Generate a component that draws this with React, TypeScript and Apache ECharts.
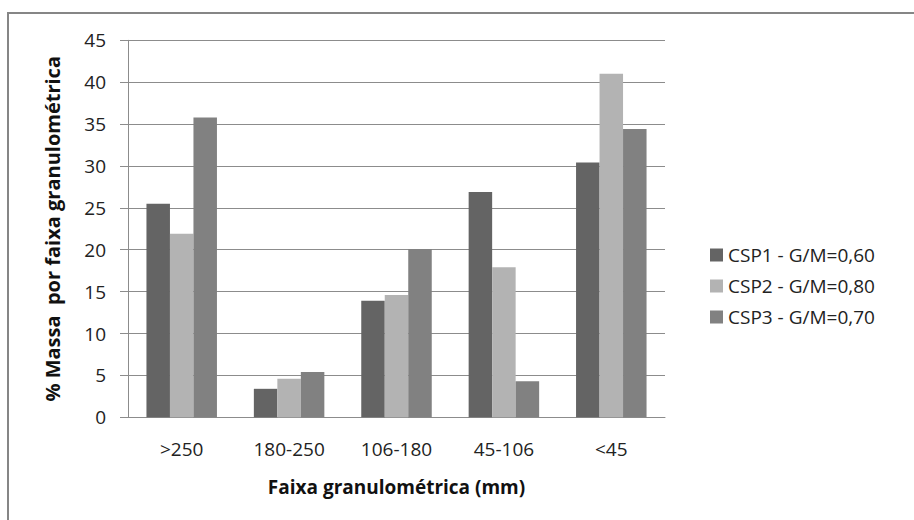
import React, { useEffect, useRef } from "react";
import * as echarts from "echarts";

const categories = [">250", "180-250", "106-180", "45-106", "<45"];
const csp1 = [25.5, 3.4, 13.9, 26.9, 30.4];
const csp2 = [21.9, 4.6, 14.6, 17.9, 41.0];
const csp3 = [35.8, 5.4, 20.1, 4.3, 34.4];
const seriesNames = ["CSP1 - G/M=0,60", "CSP2 - G/M=0,80", "CSP3 - G/M=0,70"];
const seriesColors = ["#646464", "#b3b3b3", "#818181"];

const FONT = "'Open Sans', 'Noto Sans', sans-serif";

export default function App() {
  const ref = useRef<HTMLDivElement>(null);

  useEffect(() => {
    if (!ref.current) return;
    const chart = echarts.init(ref.current, null, { renderer: "svg" });
    const values = [csp1, csp2, csp3];
    chart.setOption({
      animation: false,
      backgroundColor: "#ffffff",
      textStyle: { fontFamily: FONT },
      graphic: [
        {
          type: "rect",
          shape: { x: 8, y: 13, width: 920, height: 520 },
          style: { fill: "none", stroke: "#868686", lineWidth: 2 },
          silent: true,
        },
      ],
      grid: { left: 128, right: 249, top: 40.3, bottom: 102.7 },
      legend: {
        orient: "vertical",
        left: 705,
        top: 240,
        itemWidth: 13,
        itemHeight: 13,
        itemGap: 11,
        icon: "rect",
        data: seriesNames,
        textStyle: { fontFamily: FONT, fontSize: 19, color: "#222", lineHeight: 20 },
      },
      xAxis: {
        type: "category",
        data: categories,
        name: "Faixa granulométrica (mm)",
        nameLocation: "middle",
        nameGap: 60,
        nameTextStyle: { fontFamily: FONT, fontSize: 19, fontWeight: "bold", color: "#111" },
        axisLine: { show: true, lineStyle: { color: "#8c8c8c", width: 1 } },
        axisTick: { show: false },
        axisLabel: { fontFamily: FONT, fontSize: 19, color: "#222", margin: 22 },
      },
      yAxis: {
        type: "value",
        min: 0,
        max: 45,
        interval: 5,
        name: "% Massa  por faixa granulométrica",
        nameLocation: "middle",
        nameGap: 66,
        nameTextStyle: { fontFamily: FONT, fontSize: 20, fontWeight: "bold", color: "#111" },
        axisLine: { show: true, lineStyle: { color: "#8c8c8c", width: 1 } },
        axisTick: { show: true, inside: false, length: 8, lineStyle: { color: "#8c8c8c" } },
        splitLine: { show: true, lineStyle: { color: "#8c8c8c", width: 1 } },
        axisLabel: { fontFamily: FONT, fontSize: 19, color: "#222", margin: 22 },
      },
      series: seriesNames.map((name, i) => ({
        name,
        type: "bar",
        data: values[i],
        barWidth: 23.5,
        barGap: "0%",
        itemStyle: { color: seriesColors[i] },
      })),
    });
    return () => chart.dispose();
  }, []);

  return (
    <div
      ref={ref}
      style={{ position: "absolute", left: 0, top: 0, width: 914, height: 520 }}
    />
  );
}
